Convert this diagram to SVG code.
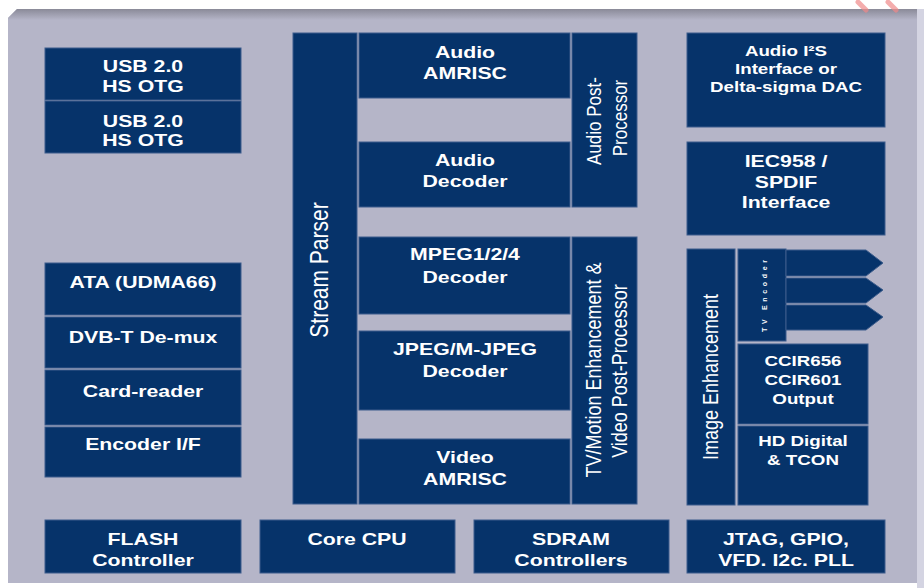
<svg xmlns="http://www.w3.org/2000/svg" width="924" height="588" viewBox="0 0 924 588">
<defs>
<linearGradient id="topband" x1="0" y1="0" x2="0" y2="1">
<stop offset="0" stop-color="#8a8a98"/>
<stop offset="1" stop-color="#b5b5c8"/>
</linearGradient>
<style>
.b{fill:#06336a;stroke:#3d5d8c;stroke-width:1}
.t{fill:#ffffff;font-family:"Liberation Sans",Arial,sans-serif;font-weight:bold;font-size:17px;text-anchor:middle}
.v{font-weight:normal}
.s{font-size:15px}
</style>
</defs>
<rect x="0" y="0" width="924" height="588" fill="#ffffff"/>
<path d="M17,9 H917 V583 H8 V18 Z" fill="#b5b5c8"/>
<path d="M17,9 H917 V20 H8 V18 Z" fill="url(#topband)"/>
<rect x="917" y="9" width="7" height="579" fill="#d4d4e2"/>
<path d="M858,2 L866,10" stroke="#f08a8a" stroke-width="5" stroke-linecap="round" opacity="0.7"/>
<path d="M888,2 L896,10" stroke="#f08a8a" stroke-width="5" stroke-linecap="round" opacity="0.7"/>

<g id="usb1"><rect class="b" x="45" y="48" width="196" height="52"/>
<text class="t" transform="translate(143 72) scale(1.25 1)">USB 2.0</text>
<text class="t" transform="translate(143 92) scale(1.25 1)">HS OTG</text></g>
<g id="usb2"><rect class="b" x="45" y="101" width="196" height="52"/>
<text class="t" transform="translate(143 127) scale(1.25 1)">USB 2.0</text>
<text class="t" transform="translate(143 146) scale(1.25 1)">HS OTG</text></g>

<g id="ata"><rect class="b" x="45" y="263" width="196" height="52"/>
<text class="t" transform="translate(143 288) scale(1.25 1)">ATA (UDMA66)</text></g>
<g id="dvbt"><rect class="b" x="45" y="317" width="196" height="51"/>
<text class="t" transform="translate(143 343) scale(1.25 1)">DVB-T De-mux</text></g>
<g id="card"><rect class="b" x="45" y="370" width="196" height="55"/>
<text class="t" transform="translate(143 397) scale(1.25 1)">Card-reader</text></g>
<g id="encoder"><rect class="b" x="45" y="427" width="196" height="50"/>
<text class="t" transform="translate(143 450) scale(1.25 1)">Encoder I/F</text></g>

<g id="stream-parser"><rect class="b" x="293" y="33" width="64" height="471"/>
<text class="t v" style="font-size:21px" transform="translate(328 270) rotate(-90) scale(1 1.2)">Stream Parser</text></g>

<g id="audio-amrisc"><rect class="b" x="359" y="33" width="211" height="65"/>
<text class="t" transform="translate(465 58) scale(1.25 1)">Audio</text>
<text class="t" transform="translate(465 79) scale(1.25 1)">AMRISC</text></g>
<g id="audio-decoder"><rect class="b" x="359" y="142" width="211" height="65"/>
<text class="t" transform="translate(465 166) scale(1.25 1)">Audio</text>
<text class="t" transform="translate(465 187) scale(1.25 1)">Decoder</text></g>
<g id="audio-post"><rect class="b" x="572" y="33" width="65" height="174"/>
<text class="t v" transform="translate(601 121) rotate(-90) scale(1 1.2)">Audio Post-</text>
<text class="t v" transform="translate(627 118) rotate(-90) scale(1 1.2)">Processor</text></g>

<g id="mpeg"><rect class="b" x="359" y="237" width="211" height="77"/>
<text class="t" transform="translate(465 260) scale(1.25 1)">MPEG1/2/4</text>
<text class="t" transform="translate(465 283) scale(1.25 1)">Decoder</text></g>
<g id="jpeg"><rect class="b" x="359" y="331" width="211" height="79"/>
<text class="t" transform="translate(465 355) scale(1.25 1)">JPEG/M-JPEG</text>
<text class="t" transform="translate(465 377) scale(1.25 1)">Decoder</text></g>
<g id="video-amrisc"><rect class="b" x="359" y="439" width="211" height="65"/>
<text class="t" transform="translate(465 463) scale(1.25 1)">Video</text>
<text class="t" transform="translate(465 485) scale(1.25 1)">AMRISC</text></g>
<g id="tv-motion"><rect class="b" x="572" y="237" width="65" height="267"/>
<text class="t v" style="font-size:18px" transform="translate(601 370) rotate(-90) scale(1 1.2)">TV/Motion Enhancement &amp;</text>
<text class="t v" style="font-size:18px" transform="translate(627 371) rotate(-90) scale(1 1.2)">Video Post-Processor</text></g>

<g id="audio-i2s"><rect class="b" x="687" y="33" width="198" height="94"/>
<text class="t s" transform="translate(786 56) scale(1.25 1)">Audio I²S</text>
<text class="t s" transform="translate(786 74) scale(1.25 1)">Interface or</text>
<text class="t s" transform="translate(786 92) scale(1.25 1)">Delta-sigma DAC</text></g>
<g id="iec958"><rect class="b" x="687" y="142" width="198" height="93"/>
<text class="t" transform="translate(786 167) scale(1.25 1)">IEC958 /</text>
<text class="t" transform="translate(786 188) scale(1.25 1)">SPDIF</text>
<text class="t" transform="translate(786 208) scale(1.25 1)">Interface</text></g>

<g id="image-enhancement"><rect class="b" x="687" y="249" width="48" height="256"/>
<text class="t v" style="font-size:18px" transform="translate(718 377) rotate(-90) scale(1 1.2)">Image Enhancement</text></g>
<g id="tv-encoder"><rect class="b" x="738" y="249" width="48" height="92"/>
<text class="t" style="font-size:7px" textLength="72" lengthAdjust="spacing" transform="translate(767 296) rotate(-90)">TV Encoder</text></g>
<g id="ccir"><rect class="b" x="738" y="344" width="130" height="80"/>
<text class="t s" transform="translate(803 366) scale(1.25 1)">CCIR656</text>
<text class="t s" transform="translate(803 385) scale(1.25 1)">CCIR601</text>
<text class="t s" transform="translate(803 404) scale(1.25 1)">Output</text></g>
<g id="hd-digital"><rect class="b" x="738" y="426" width="130" height="79"/>
<text class="t s" transform="translate(803 446) scale(1.25 1)">HD Digital</text>
<text class="t s" transform="translate(803 465) scale(1.25 1)">&amp; TCON</text></g>

<g id="connectors">
<path class="b" d="M786,250 H866 L883,263 L866,276 H786 Z"/>
<path class="b" d="M786,278 H866 L883,290 L866,303 H786 Z"/>
<path class="b" d="M786,305 H866 L883,317 L866,330 H786 Z"/>
</g>

<g id="flash"><rect class="b" x="45" y="520" width="196" height="53"/>
<text class="t" transform="translate(143 545) scale(1.25 1)">FLASH</text>
<text class="t" transform="translate(143 566) scale(1.25 1)">Controller</text></g>
<g id="core-cpu"><rect class="b" x="260" y="520" width="195" height="53"/>
<text class="t" transform="translate(357 545) scale(1.25 1)">Core CPU</text></g>
<g id="sdram"><rect class="b" x="474" y="520" width="195" height="53"/>
<text class="t" transform="translate(571 545) scale(1.25 1)">SDRAM</text>
<text class="t" transform="translate(571 566) scale(1.25 1)">Controllers</text></g>
<g id="jtag"><rect class="b" x="687" y="520" width="198" height="53"/>
<text class="t" transform="translate(786 545) scale(1.25 1)">JTAG, GPIO,</text>
<text class="t" transform="translate(786 566) scale(1.25 1)">VFD. I2c. PLL</text></g>
</svg>
